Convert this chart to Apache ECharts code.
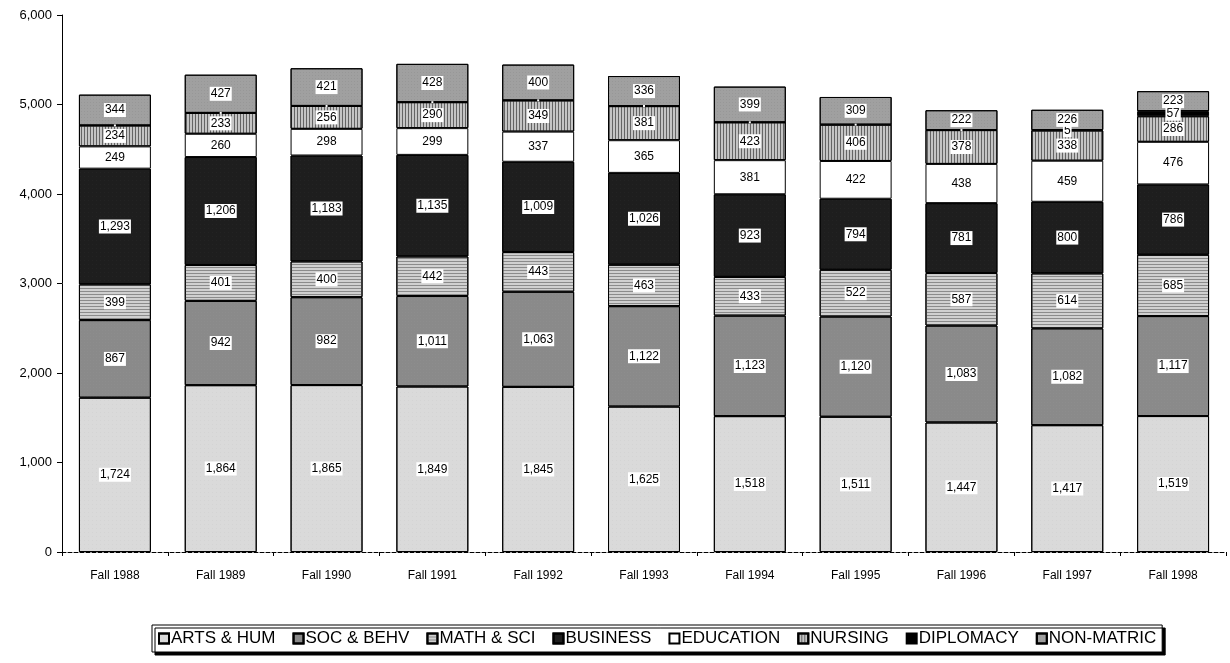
<!DOCTYPE html>
<html><head><meta charset="utf-8">
<script src="https://cdn.jsdelivr.net/npm/echarts@6/dist/echarts.min.js"></script>
<style>html,body{margin:0;padding:0;background:#fff}#c{width:1230px;height:663px}</style>
</head><body><div id="c"></div>
<script>
const categories = ["Fall 1988","Fall 1989","Fall 1990","Fall 1991","Fall 1992","Fall 1993","Fall 1994","Fall 1995","Fall 1996","Fall 1997","Fall 1998"];
const artsHum   = [1724,1864,1865,1849,1845,1625,1518,1511,1447,1417,1519];
const socBehv   = [867,942,982,1011,1063,1122,1123,1120,1083,1082,1117];
const mathSci   = [399,401,400,442,443,463,433,522,587,614,685];
const business  = [1293,1206,1183,1135,1009,1026,923,794,781,800,786];
const education = [249,260,298,299,337,365,381,422,438,459,476];
const nursing   = [234,233,256,290,349,381,423,406,378,338,286];
const diplomacy = [0,0,0,0,0,0,0,0,0,5,57];
const nonMatric = [344,427,421,428,400,336,399,309,222,226,223];
const seriesNames = ["ARTS & HUM","SOC & BEHV","MATH & SCI","BUSINESS","EDUCATION","NURSING","DIPLOMACY","NON-MATRIC"];
const yTicks = [0,1000,2000,3000,4000,5000,6000];

const styles = [
  {color:'#dadada', decal:{symbol:'circle',symbolSize:0.3,dashArrayX:[[1,3]],dashArrayY:[1,3],color:'rgba(90,90,90,0.6)'}},
  {color:'#8a8a8a', decal:{symbol:'circle',symbolSize:0.3,dashArrayX:[[1,2]],dashArrayY:[1,2],color:'rgba(230,230,230,0.6)'}},
  {color:'#d0d0d0', decal:{symbol:'rect',dashArrayX:[[8,0]],dashArrayY:[1,2],rotation:0,color:'rgba(110,110,110,0.7)'}},
  {color:'#1e1e1e', decal:{symbol:'circle',symbolSize:0.3,dashArrayX:[[1,3]],dashArrayY:[1,3],color:'rgba(200,200,200,0.5)'}},
  {color:'#ffffff', decal:null},
  {color:'#c4c4c4', decal:{symbol:'rect',dashArrayX:[[1,2]],dashArrayY:[8,0],rotation:0,color:'rgba(60,60,60,0.7)'}},
  {color:'#000000', decal:null},
  {color:'#a0a0a0', decal:{symbol:'circle',symbolSize:0.4,dashArrayX:[[1,2]],dashArrayY:[1,2],color:'rgba(50,50,50,0.6)'}}
];
const dataArr = [artsHum,socBehv,mathSci,business,education,nursing,diplomacy,nonMatric];

const series = dataArr.map((d,i)=>({
  name: seriesNames[i],
  type:'bar',
  stack:'total',
  barWidth:'68%',
  data:d,
  itemStyle:{color:styles[i].color, borderColor:'#000', borderWidth:1, decal: styles[i].decal},
  label:{
    show:true, position:'inside',
    formatter:p=> p.value>0 ? p.value.toLocaleString('en-US') : '',
    color:'#000', fontFamily:'Arial, Liberation Sans', fontSize:12,
    backgroundColor:'#fff', padding:[1,1]
  }
}));

const chart = echarts.init(document.getElementById('c'));
chart.setOption({
  animation:false,
  aria:{enabled:false, decal:{show:true}},
  grid:{left:62,right:4,top:15,bottom:111},
  legend:{
    data:seriesNames, bottom:11, left:152,
    icon:'rect', itemWidth:10, itemHeight:10, itemGap:17,
    borderColor:'#000', borderWidth:1, padding:[5,6],
    shadowColor:'#000', shadowOffsetX:3, shadowOffsetY:3,
    backgroundColor:'#fff',
    textStyle:{fontFamily:'Arial, Liberation Sans', fontSize:17, color:'#000', padding:[0,0,0,-3]}
  },
  xAxis:{
    type:'category', data:categories,
    axisLine:{lineStyle:{color:'#000',type:'dashed'}},
    axisTick:{show:true,length:4,inside:false,lineStyle:{color:'#000'}},
    axisLabel:{color:'#000', fontFamily:'Arial, Liberation Sans', fontSize:12, margin:18}
  },
  yAxis:{
    type:'value', min:0, max:6000, interval:1000,
    axisLine:{show:true,lineStyle:{color:'#000'}},
    axisTick:{show:true,length:5,lineStyle:{color:'#000'}},
    splitLine:{show:false},
    axisLabel:{color:'#000', fontFamily:'Arial, Liberation Sans', fontSize:13, margin:10,
      formatter:v=> yTicks.includes(v) ? v.toLocaleString('en-US') : ''}
  },
  series
});
</script></body></html>
